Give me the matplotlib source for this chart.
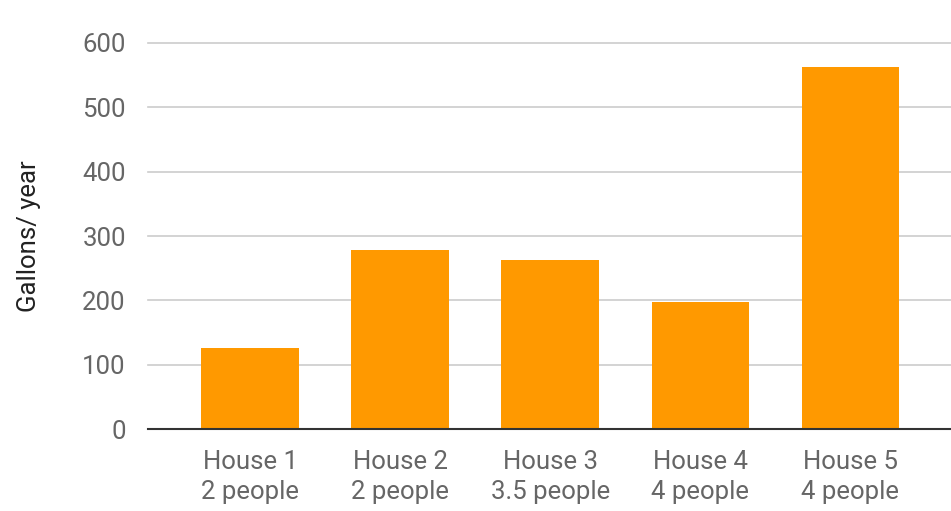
import matplotlib.pyplot as plt
import numpy as np

plt.rcParams["font.family"] = ["Roboto", "DejaVu Sans"]

# Data
houses = ["House 1", "House 2", "House 3", "House 4", "House 5"]
people = ["2 people", "2 people", "3.5 people", "4 people", "4 people"]
gallons = [126, 278, 263, 197, 563]

BAR_COLOR = "#FF9900"
TEXT_COLOR = "#666666"
FS = 18.5

fig = plt.figure(figsize=(9.51, 5.11), dpi=100)
ax = fig.add_axes([148 / 951, 82 / 511, 1 - 148 / 951, (429 - 43) / 511])

x = np.arange(len(houses))
ax.bar(x, gallons, width=0.65, color=BAR_COLOR, zorder=3)

ax.set_xlim(-0.68, 4.67)
ax.set_ylim(0, 600)
ax.set_yticks(np.arange(0, 601, 100))
ax.set_xticks(x)
ax.set_xticklabels([f"{h}\n{p}" for h, p in zip(houses, people)],
                   fontsize=FS, color=TEXT_COLOR, linespacing=1.35)
ax.tick_params(axis="y", labelsize=FS, labelcolor=TEXT_COLOR, length=0, pad=16)
ax.tick_params(axis="x", length=0, pad=15)

ax.grid(axis="y", color="#cccccc", linewidth=1.2, zorder=0)
for lbl in ax.get_ygridlines():
    lbl.set_clip_on(False)
for side in ["top", "right", "left"]:
    ax.spines[side].set_visible(False)
ax.spines["bottom"].set_color("#333333")
ax.spines["bottom"].set_linewidth(1.5)
ax.spines["bottom"].set_zorder(4)

ax.set_ylabel("Gallons/ year", fontsize=FS, color="#222222", labelpad=30)

fig.savefig("out.png", dpi=100)
